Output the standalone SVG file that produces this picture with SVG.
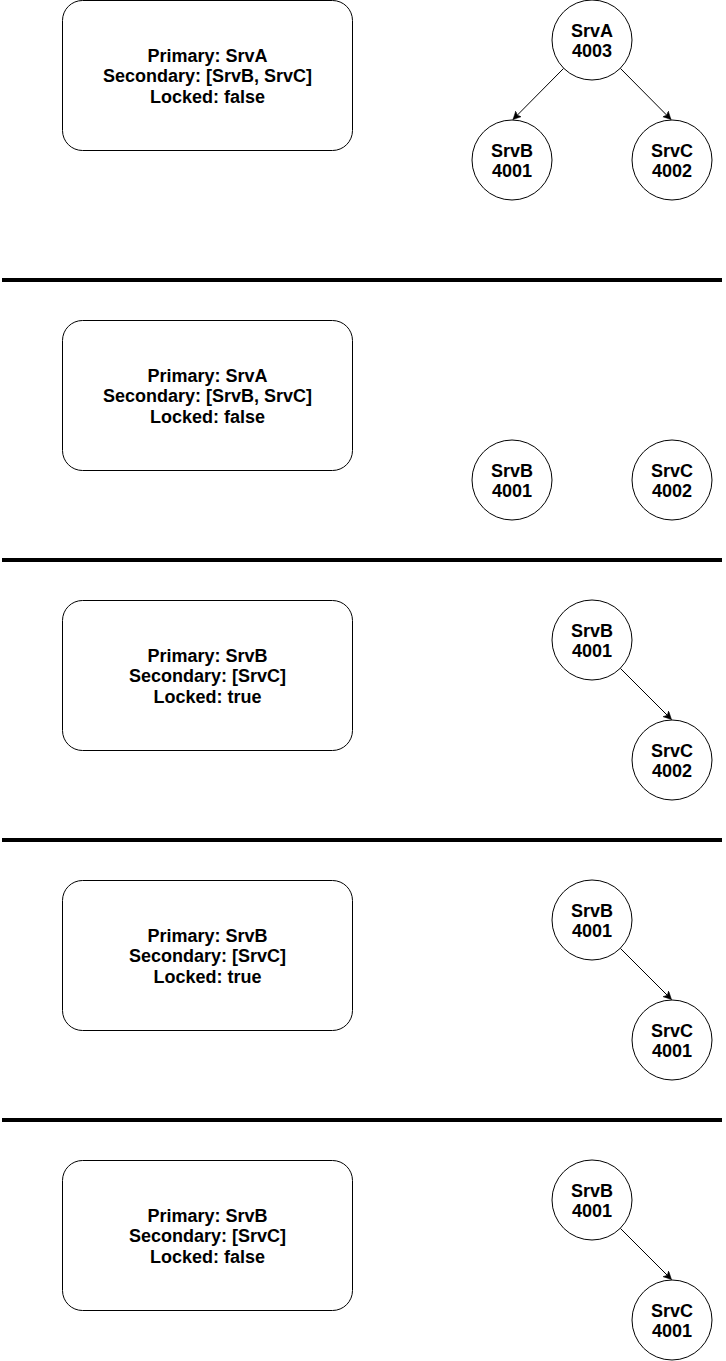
<svg xmlns="http://www.w3.org/2000/svg" width="726" height="1361" viewBox="0 0 726 1361">
<defs>
<style>
.box{fill:#fff;stroke:#000;stroke-width:1}
.node{fill:#fff;stroke:#000;stroke-width:1}
.t{font-family:"Liberation Sans",Arial,sans-serif;font-size:18px;font-weight:bold;fill:#000;text-anchor:middle}
.sep{stroke:#000;stroke-width:4}
.edge{stroke:#000;stroke-width:1;fill:none;marker-end:url(#arr)}
</style>
<marker id="arr" markerWidth="10" markerHeight="10" refX="8" refY="4" orient="auto" markerUnits="userSpaceOnUse">
<path d="M0,0 L8,4 L0,8 L2,4 Z" fill="#000" stroke="#000" stroke-width="0.5"/>
</marker>
</defs>
<rect width="726" height="1361" fill="#fff"/>
<g id="separators">
<line class="sep" x1="2" y1="280" x2="722" y2="280"/>
<line class="sep" x1="2" y1="560" x2="722" y2="560"/>
<line class="sep" x1="2" y1="840" x2="722" y2="840"/>
<line class="sep" x1="2" y1="1120" x2="722" y2="1120"/>
</g>
<g id="connectors">
<line class="edge" x1="563.7" y1="68.3" x2="513" y2="119.5"/>
<line class="edge" x1="620.3" y1="68.3" x2="671" y2="119.5"/>
<line class="edge" x1="620.3" y1="668.3" x2="671.5" y2="719.5"/>
<line class="edge" x1="620.3" y1="948.3" x2="671.5" y2="999.5"/>
<line class="edge" x1="620.3" y1="1228.3" x2="671.5" y2="1279.5"/>
</g>
<g id="state1">
<rect class="box" x="62.5" y="0.5" width="290" height="150" rx="20"/>
<text class="t" x="207.5" y="61.5">Primary: SrvA</text>
<text class="t" x="207.5" y="82">Secondary: [SrvB, SrvC]</text>
<text class="t" x="207.5" y="102.5">Locked: false</text>
</g>
<g id="s1-srva"><circle class="node" cx="592" cy="40" r="40"/><text class="t" x="592" y="36.5">SrvA</text><text class="t" x="592" y="56.5">4003</text></g>
<g id="s1-srvb"><circle class="node" cx="512" cy="160" r="40"/><text class="t" x="512" y="156.5">SrvB</text><text class="t" x="512" y="176.5">4001</text></g>
<g id="s1-srvc"><circle class="node" cx="672" cy="160" r="40"/><text class="t" x="672" y="156.5">SrvC</text><text class="t" x="672" y="176.5">4002</text></g>
<g id="state2">
<rect class="box" x="62.5" y="320.5" width="290" height="150" rx="20"/>
<text class="t" x="207.5" y="381.5">Primary: SrvA</text>
<text class="t" x="207.5" y="402">Secondary: [SrvB, SrvC]</text>
<text class="t" x="207.5" y="422.5">Locked: false</text>
</g>
<g id="s2-srvb"><circle class="node" cx="512" cy="480" r="40"/><text class="t" x="512" y="476.5">SrvB</text><text class="t" x="512" y="496.5">4001</text></g>
<g id="s2-srvc"><circle class="node" cx="672" cy="480" r="40"/><text class="t" x="672" y="476.5">SrvC</text><text class="t" x="672" y="496.5">4002</text></g>
<g id="state3">
<rect class="box" x="62.5" y="600.5" width="290" height="150" rx="20"/>
<text class="t" x="207.5" y="661.5">Primary: SrvB</text>
<text class="t" x="207.5" y="682">Secondary: [SrvC]</text>
<text class="t" x="207.5" y="702.5">Locked: true</text>
</g>
<g id="s3-srvb"><circle class="node" cx="592" cy="640" r="40"/><text class="t" x="592" y="636.5">SrvB</text><text class="t" x="592" y="656.5">4001</text></g>
<g id="s3-srvc"><circle class="node" cx="672" cy="760" r="40"/><text class="t" x="672" y="756.5">SrvC</text><text class="t" x="672" y="776.5">4002</text></g>
<g id="state4">
<rect class="box" x="62.5" y="880.5" width="290" height="150" rx="20"/>
<text class="t" x="207.5" y="941.5">Primary: SrvB</text>
<text class="t" x="207.5" y="962">Secondary: [SrvC]</text>
<text class="t" x="207.5" y="982.5">Locked: true</text>
</g>
<g id="s4-srvb"><circle class="node" cx="592" cy="920" r="40"/><text class="t" x="592" y="916.5">SrvB</text><text class="t" x="592" y="936.5">4001</text></g>
<g id="s4-srvc"><circle class="node" cx="672" cy="1040" r="40"/><text class="t" x="672" y="1036.5">SrvC</text><text class="t" x="672" y="1056.5">4001</text></g>
<g id="state5">
<rect class="box" x="62.5" y="1160.5" width="290" height="150" rx="20"/>
<text class="t" x="207.5" y="1221.5">Primary: SrvB</text>
<text class="t" x="207.5" y="1242">Secondary: [SrvC]</text>
<text class="t" x="207.5" y="1262.5">Locked: false</text>
</g>
<g id="s5-srvb"><circle class="node" cx="592" cy="1200" r="40"/><text class="t" x="592" y="1196.5">SrvB</text><text class="t" x="592" y="1216.5">4001</text></g>
<g id="s5-srvc"><circle class="node" cx="672" cy="1320" r="40"/><text class="t" x="672" y="1316.5">SrvC</text><text class="t" x="672" y="1336.5">4001</text></g>
</svg>
